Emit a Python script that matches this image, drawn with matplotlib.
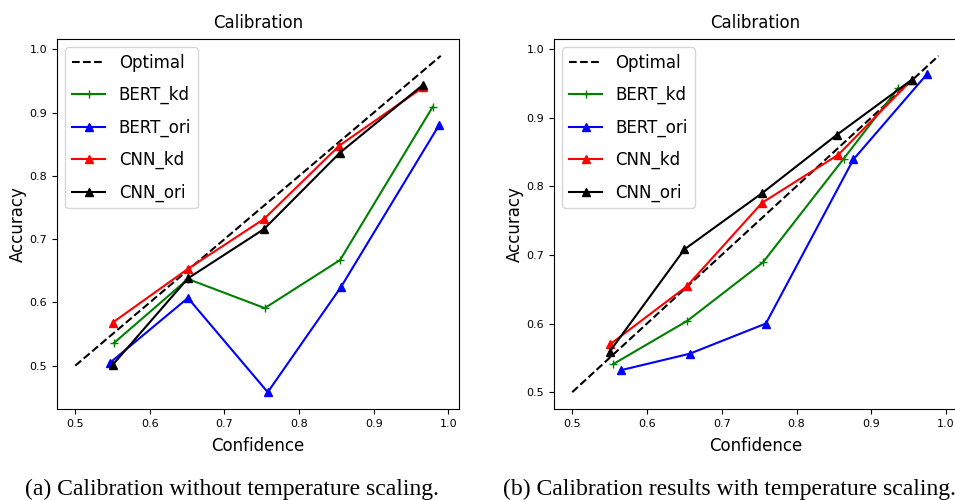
import matplotlib
matplotlib.use("Agg")
from matplotlib import pyplot as plt

# diagonal reference
optimal = [0.5, 0.99]

# (a) without temperature scaling
a_bert_kd_x = [0.552, 0.651, 0.754, 0.855, 0.979]
a_bert_kd_y = [0.536, 0.637, 0.591, 0.667, 0.909]
a_bert_ori_x = [0.546, 0.651, 0.758, 0.856, 0.988]
a_bert_ori_y = [0.504, 0.607, 0.458, 0.624, 0.881]
a_cnn_kd_x = [0.550, 0.651, 0.753, 0.854, 0.966]
a_cnn_kd_y = [0.568, 0.653, 0.732, 0.848, 0.940]
a_cnn_ori_x = [0.550, 0.651, 0.753, 0.855, 0.966]
a_cnn_ori_y = [0.501, 0.638, 0.716, 0.837, 0.944]

# (b) with temperature scaling
b_bert_kd_x = [0.555, 0.654, 0.755, 0.863, 0.936]
b_bert_kd_y = [0.541, 0.604, 0.689, 0.840, 0.943]
b_bert_ori_x = [0.565, 0.657, 0.759, 0.876, 0.975]
b_bert_ori_y = [0.532, 0.556, 0.600, 0.839, 0.964]
b_cnn_kd_x = [0.551, 0.653, 0.754, 0.856, 0.954]
b_cnn_kd_y = [0.570, 0.654, 0.776, 0.846, 0.955]
b_cnn_ori_x = [0.550, 0.650, 0.754, 0.854, 0.954]
b_cnn_ori_y = [0.559, 0.708, 0.790, 0.875, 0.955]

x_ticks = [0.5, 0.6, 0.7, 0.8, 0.9, 1.0]
captions = ["(a) Calibration without temperature scaling.",
            "(b) Calibration results with temperature scaling."]


def draw(ax, data):
    ax.plot(optimal, optimal, 'k--', label='Optimal')
    ax.plot(data[0], data[1], '+-', color='green', label='BERT_kd')
    ax.plot(data[2], data[3], '^-', color='blue', label='BERT_ori')
    ax.plot(data[4], data[5], '^-', color='red', label='CNN_kd')
    ax.plot(data[6], data[7], '^-', color='black', label='CNN_ori')
    ax.set_title('Calibration', fontsize=12, pad=8)
    ax.set_xlabel('Confidence', fontsize=12, labelpad=6)
    ax.set_ylabel('Accuracy', fontsize=12, labelpad=2)
    ax.set_xticks(x_ticks)
    ax.tick_params(labelsize=8)
    ax.legend(loc='upper left', fontsize=12, labelspacing=0.85)


fig = plt.figure(figsize=(9.55, 5.0), dpi=100)
ax1 = fig.add_axes([0.0597, 0.182, 0.421, 0.74])
ax2 = fig.add_axes([0.580, 0.182, 0.422, 0.74])

draw(ax1, [a_bert_kd_x, a_bert_kd_y, a_bert_ori_x, a_bert_ori_y,
           a_cnn_kd_x, a_cnn_kd_y, a_cnn_ori_x, a_cnn_ori_y])
draw(ax2, [b_bert_kd_x, b_bert_kd_y, b_bert_ori_x, b_bert_ori_y,
           b_cnn_kd_x, b_cnn_kd_y, b_cnn_ori_x, b_cnn_ori_y])

fig.text(25 / 955, 0.01, captions[0], fontsize=17, family='Liberation Serif',
         ha='left', va='baseline')
fig.text(503 / 955, 0.01, captions[1], fontsize=17, family='Liberation Serif',
         ha='left', va='baseline')

fig.savefig('out.png', dpi=100)
